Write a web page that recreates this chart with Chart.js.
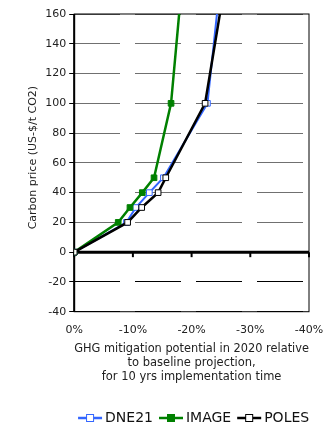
<!DOCTYPE html>
<html>
<head>
<meta charset="UTF-8">
<title>Carbon price vs GHG mitigation</title>
<script src="https://cdn.jsdelivr.net/npm/chart.js"></script>
<style>
  body { margin: 0; background: #fff; }
  #wrap { width: 327px; height: 433px; }
</style>
</head>
<body>
<div id="wrap"><canvas id="grafico"></canvas></div>
<script>
// prices (US-$/t CO2)
const precos = [0, 20, 30, 40, 50, 100, 200];
// mitigation (% of baseline, negative = reduction)
const dne21 = [0, -8.9, -10.5, -12.8, -15.2, -22.7, -25.4];
const image = [0, -7.5, -9.5, -11.6, -13.6, -16.5, -18.8];
const poles = [0, -9.1, -11.5, -14.3, -15.6, -22.3, -26.5];
const nomes = ['DNE21', 'IMAGE', 'POLES'];
const cores = ['#3366ff', '#008000', '#000000'];
const yTicks = [-40, -20, 0, 20, 40, 60, 80, 100, 120, 140, 160];
const xTicks = [0, -10, -20, -30, -40];

function pontos(serie) {
    return serie.map((x, i) => ({ x: x, y: precos[i] }));
}

// legend symbol: line with a square in the middle (canvas wider than the box so the text sits close)
function simbolo(cor, cheio) {
    const c = document.createElement('canvas');
    c.width = 40; c.height = 10;
    const g = c.getContext('2d');
    g.strokeStyle = cor; g.lineWidth = 2.5;
    g.beginPath(); g.moveTo(12, 5); g.lineTo(36, 5); g.stroke();
    g.fillStyle = cheio ? cor : '#fff';
    g.fillRect(20, 1, 8, 8);
    g.lineWidth = 1;
    g.strokeRect(20.5, 1.5, 7, 7);
    return c;
}

const moldura = {
    id: 'moldura',
    beforeDraw(chart) {
        // centre the legend under the plot area, like the original
        const l = chart.legend, a = chart.chartArea;
        if (l) {
            const d = (a.left + a.right) / 2 - (l.left + l.right) / 2;
            l.left += d; l.right += d;
        }
    },
    beforeDatasetsDraw(chart) {
        const a = chart.chartArea, g = chart.ctx;
        const y0 = chart.scales.y.getPixelForValue(0);
        g.save();
        g.strokeStyle = '#000';
        g.lineWidth = 1;
        g.strokeRect(a.left, a.top, a.right - a.left, a.bottom - a.top);
        g.lineWidth = 2;
        g.beginPath(); g.moveTo(a.left, a.top); g.lineTo(a.left, a.bottom); g.stroke();
        g.lineWidth = 3;
        g.beginPath(); g.moveTo(a.left, y0); g.lineTo(a.right, y0); g.stroke();
        g.lineWidth = 2;
        xTicks.forEach(v => {
            const px = chart.scales.x.getPixelForValue(v);
            g.beginPath(); g.moveTo(px, y0); g.lineTo(px, y0 + 5); g.stroke();
        });
        g.restore();
    }
};

const series = [dne21, image, poles];
const datasets = series.map((s, i) => ({
    label: nomes[i],
    data: pontos(s),
    borderColor: cores[i],
    backgroundColor: i == 1 ? cores[i] : '#fff',
    borderWidth: i == 0 ? 2 : 2.5,
    pointStyle: 'rect',
    pointRadius: 4,
    pointBorderWidth: 1,
    pointBackgroundColor: i == 1 ? cores[i] : '#fff',
    pointBorderColor: cores[i],
    order: 3 - i,
    legendSymbol: simbolo(cores[i], i == 1)
}));

new Chart(document.getElementById('grafico'), {
    type: 'line',
    data: { datasets: datasets },
    plugins: [moldura],
    options: {
        responsive: true,
        maintainAspectRatio: false,
        animation: false,
        layout: { padding: { left: 27, right: 18, top: 14, bottom: -2 } },
        plugins: {
            tooltip: { enabled: false },
            legend: {
                position: 'bottom',
                labels: {
                    usePointStyle: true,
                    pointStyleWidth: 24,
                    boxHeight: 10,
                    padding: 2,
                    color: '#111',
                    font: { family: 'DejaVu Sans', size: 14 },
                    sort: (a, b) => a.datasetIndex - b.datasetIndex,
                    generateLabels(chart) {
                        return chart.data.datasets.map((d, i) => ({
                            text: d.label,
                            pointStyle: d.legendSymbol,
                            fontColor: '#111',
                            strokeStyle: d.borderColor,
                            fillStyle: d.borderColor,
                            lineWidth: 0,
                            datasetIndex: i,
                            hidden: false
                        }));
                    }
                }
            }
        },
        scales: {
            x: {
                type: 'linear',
                reverse: true,
                min: -40,
                max: 0,
                afterBuildTicks: ax => { ax.ticks = xTicks.map(v => ({ value: v })); },
                afterFit: ax => { ax.paddingLeft = 0; ax.paddingRight = 0; },
                grid: { display: false, drawTicks: false },
                border: { display: false },
                ticks: {
                    padding: 12,
                    color: '#222',
                    font: { family: 'DejaVu Sans', size: 11 },
                    callback: v => v + '%'
                },
                title: {
                    display: true,
                    text: ['GHG mitigation potential in 2020 relative', 'to baseline projection,', 'for 10 yrs implementation time'],
                    color: '#222',
                    font: { family: 'DejaVu Sans', size: 11.5, lineHeight: 1.22 },
                    padding: { top: -7, bottom: 25 }
                }
            },
            y: {
                min: -40,
                max: 160,
                afterBuildTicks: ax => { ax.ticks = yTicks.map(v => ({ value: v })); },
                grid: {
                    color: c => {
                        const v = c.tick ? c.tick.value : null;
                        if (v === 0) return 'rgba(0,0,0,0)';
                        return v < 0 ? '#000' : '#707070';
                    },
                    lineWidth: 1,
                    tickColor: '#000',
                    tickLength: 5,
                    tickBorderDash: []
                },
                border: { display: false, dash: [46, 15] },
                ticks: {
                    padding: 3,
                    color: '#222',
                    font: { family: 'DejaVu Sans', size: 11 }
                },
                title: {
                    display: true,
                    text: '   Carbon price (US-$/t CO2)',
                    color: '#222',
                    font: { family: 'DejaVu Sans', size: 11 },
                    padding: { top: 0, bottom: 2 }
                }
            }
        }
    }
});
</script>
</body>
</html>
